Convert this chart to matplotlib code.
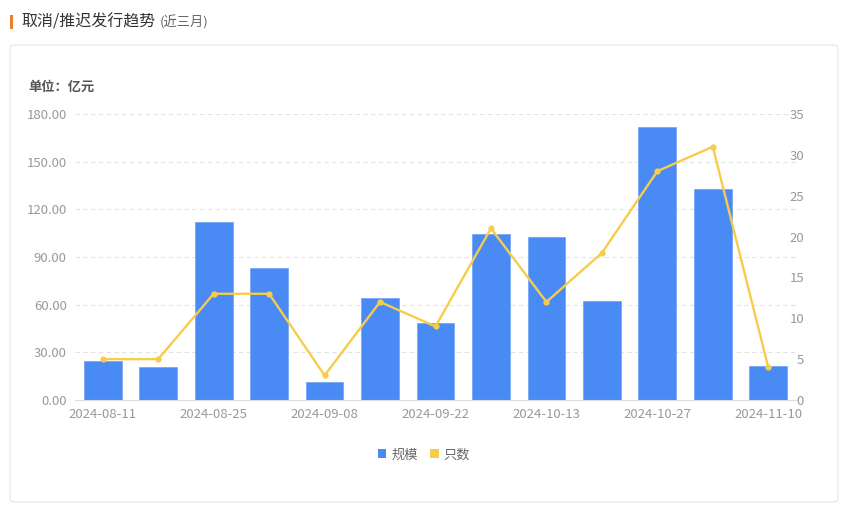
import matplotlib
matplotlib.use("Agg")
import matplotlib.pyplot as plt
from matplotlib.patches import FancyBboxPatch, Patch, Rectangle

plt.rcParams['font.family'] = ['Noto Sans CJK SC', 'DejaVu Sans']

# 数据
dates = ['2024-08-11', '2024-08-18', '2024-08-25', '2024-09-01', '2024-09-08',
         '2024-09-15', '2024-09-22', '2024-10-06', '2024-10-13', '2024-10-20',
         '2024-10-27', '2024-11-03', '2024-11-10']
scale = [24.8, 20.6, 112.0, 83.2, 11.2, 64.2, 48.2, 104.4, 102.3, 62.5, 172.0, 132.6, 21.7]
count = [5, 5, 13, 13, 3, 12, 9, 21, 12, 18, 28, 31, 4]
left_ticks = [0, 30, 60, 90, 120, 150, 180]
right_ticks = [0, 5, 10, 15, 20, 25, 30, 35]

W, H = 855, 511
blue = '#4a8af4'
yellow = '#f6cd4b'
grey = '#999999'

fig = plt.figure(figsize=(W / 100, H / 100), dpi=100)

# 标题
fig.add_artist(Rectangle((10 / W, 1 - 29 / H), 3 / W, 14 / H, transform=fig.transFigure,
                         facecolor='#f07c2a', edgecolor='none'))
t = fig.text(21 / W, 1 - 22 / H, '取消/推迟发行趋势', fontsize=11.5, color='#333333', va='center')
fig.canvas.draw()
bb = t.get_window_extent()
fig.text(bb.x1 / W + 4 / W, 1 - 22.5 / H, '(近三月)', fontsize=9.5, color='#666666', va='center')

# 卡片
fig.add_artist(FancyBboxPatch((10 / W, 1 - 502 / H), 828 / W, 457 / H,
                              boxstyle='round,pad=0,rounding_size=0.006',
                              transform=fig.transFigure, facecolor='white',
                              edgecolor='#e6e6e6', linewidth=0.8, zorder=-10))
fig.text(28 / W, 1 - 87 / H, '单位：亿元', fontsize=9.5, color='#555555', va='center',
         fontweight='bold')

ax = fig.add_axes([75 / W, 1 - 400 / H, 721 / W, 286 / H])
ax.patch.set_visible(False)
x = list(range(len(dates)))
ax.bar(x, scale, width=0.68, color=blue, edgecolor='#77a6f7', linewidth=0.6, zorder=2)
ax.set_xlim(-0.5, len(dates) - 0.5)
ax.set_ylim(0, 180)
ax.set_yticks(left_ticks)
ax.set_yticklabels([f'{v:.2f}' for v in left_ticks])
ax.set_xticks(x[::2])
ax.set_xticklabels(dates[::2])
for v in left_ticks[1:]:
    ax.axhline(v, color='#e3e3e3', linewidth=0.8, linestyle=(0, (4, 3)), zorder=0)
for s in ['top', 'right', 'left']:
    ax.spines[s].set_visible(False)
ax.spines['bottom'].set_color('#dddddd')
ax.tick_params(axis='both', length=0, labelsize=9.5, colors=grey)
ax.tick_params(axis='y', pad=6)
ax.tick_params(axis='x', pad=6)

ax2 = ax.twinx()
ax2.plot(x, count, color=yellow, linewidth=1.7, marker='o', markersize=3.5, zorder=3)
ax2.set_ylim(0, 35)
ax2.set_yticks(right_ticks)
for s in ax2.spines.values():
    s.set_visible(False)
ax2.tick_params(axis='y', length=0, labelsize=9.5, colors=grey)
for lab in ax2.get_yticklabels():
    lab.set_horizontalalignment('right')
ax2.tick_params(axis='y', pad=5.8)

handles = [Patch(facecolor=blue, edgecolor='none', label='规模'),
           Patch(facecolor=yellow, edgecolor='none', label='只数')]
leg = fig.legend(handles=handles, loc='center', bbox_to_anchor=(424 / W, 1 - 455 / H),
                 ncol=2, frameon=False, fontsize=9.5, handlelength=0.65, handleheight=0.65,
                 handletextpad=0.4, columnspacing=0.9)
for txt in leg.get_texts():
    txt.set_color('#666666')

fig.savefig('out.png', dpi=100)
